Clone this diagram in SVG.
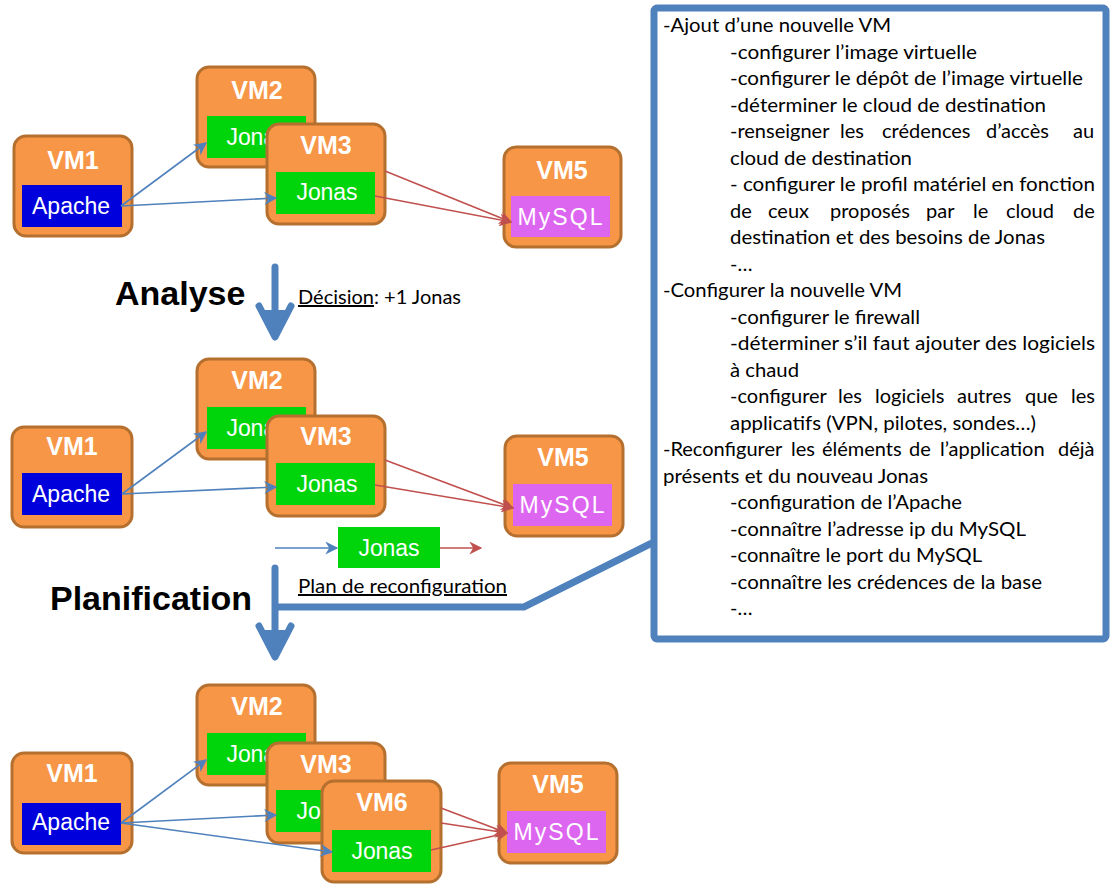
<svg xmlns="http://www.w3.org/2000/svg" width="1110" height="884" viewBox="0 0 1110 884">
<style>
.vm{fill:#F79646;stroke:#B5702F;stroke-width:3}
.apache{fill:#0000DD}
.jonas{fill:#00D50C}
.mysql{fill:#DD66F0}
.vt{font-family:"Liberation Sans",Arial,sans-serif;font-weight:bold;font-size:25px;fill:#fff;text-anchor:middle}
.it{font-family:"Liberation Sans",Arial,sans-serif;font-size:23px;fill:#fff;text-anchor:middle}
.bl{stroke:#4F81BD;stroke-width:1.6;fill:none;marker-end:url(#ab)}
.rd{stroke:#C0504D;stroke-width:1.6;fill:none;marker-end:url(#ar)}
.big{stroke:#4F81BD;stroke-width:7;fill:none;stroke-linecap:round;stroke-linejoin:round}
.h{font-family:"Liberation Sans",Arial,sans-serif;font-weight:bold;font-size:34px;fill:#000}
.c{font-family:Lato,"Open Sans",sans-serif;font-size:20px;fill:#000}
.lb{font-family:Lato,"Open Sans",sans-serif;font-size:20px;fill:#000}
</style>
<defs>
<marker id="ab" viewBox="0 0 10 10" refX="9" refY="5" markerWidth="14" markerHeight="13" markerUnits="userSpaceOnUse" orient="auto"><path d="M0,0 L10,5 L0,10 L3,5 z" fill="#4F81BD"/></marker>
<marker id="ar" viewBox="0 0 10 10" refX="9" refY="5" markerWidth="14" markerHeight="13" markerUnits="userSpaceOnUse" orient="auto"><path d="M0,0 L10,5 L0,10 L3,5 z" fill="#C0504D"/></marker>
</defs>

<!-- Top section -->
<g id="top-vm1"><rect class="vm" x="14" y="136" width="118" height="100" rx="12"/><text class="vt" x="73" y="169">VM1</text><rect class="apache" x="22" y="185" width="100" height="42"/><text class="it" x="71" y="214" textLength="78">Apache</text></g>
<g id="top-vm2"><rect class="vm" x="197" y="67" width="118" height="100" rx="12"/><text class="vt" x="257" y="99">VM2</text><rect class="jonas" x="207" y="116" width="99" height="42"/><text class="it" x="257" y="145" textLength="61">Jonas</text></g>
<g id="top-vm3"><rect class="vm" x="267" y="124" width="118" height="100" rx="12"/><text class="vt" x="326" y="154">VM3</text><rect class="jonas" x="276" y="172" width="99" height="42"/><text class="it" x="327" y="200" textLength="61">Jonas</text></g>
<g id="top-vm5"><rect class="vm" x="504" y="147" width="117" height="100" rx="12"/><text class="vt" x="562" y="179">VM5</text><rect class="mysql" x="511" y="196" width="99" height="41"/><text class="it" x="560" y="225" textLength="85">MySQL</text></g>

<!-- Middle section -->
<g id="mid-vm1"><rect class="vm" x="12" y="427" width="120" height="100" rx="12"/><text class="vt" x="72" y="455">VM1</text><rect class="apache" x="22" y="473" width="100" height="42"/><text class="it" x="71" y="502" textLength="78">Apache</text></g>
<g id="mid-vm2"><rect class="vm" x="197" y="359" width="118" height="100" rx="12"/><text class="vt" x="257" y="389">VM2</text><rect class="jonas" x="207" y="407" width="99" height="42"/><text class="it" x="257" y="436" textLength="61">Jonas</text></g>
<g id="mid-vm3"><rect class="vm" x="267" y="416" width="118" height="100" rx="12"/><text class="vt" x="326" y="445">VM3</text><rect class="jonas" x="276" y="463" width="99" height="42"/><text class="it" x="327" y="492" textLength="61">Jonas</text></g>
<g id="mid-vm5"><rect class="vm" x="505" y="436" width="118" height="100" rx="12"/><text class="vt" x="563" y="466">VM5</text><rect class="mysql" x="513" y="484" width="99" height="42"/><text class="it" x="562" y="513" textLength="85">MySQL</text></g>
<g id="new-jonas"><rect class="jonas" x="338" y="527" width="102" height="41"/><text class="it" x="389" y="556" textLength="61">Jonas</text></g>

<!-- Bottom section -->
<g id="bot-vm1"><rect class="vm" x="12" y="753" width="120" height="100" rx="12"/><text class="vt" x="72" y="782">VM1</text><rect class="apache" x="22" y="803" width="99" height="42"/><text class="it" x="71" y="830" textLength="78">Apache</text></g>
<g id="bot-vm2"><rect class="vm" x="197" y="685" width="118" height="100" rx="12"/><text class="vt" x="257" y="715">VM2</text><rect class="jonas" x="207" y="733" width="99" height="42"/><text class="it" x="257" y="762" textLength="61">Jonas</text></g>
<g id="bot-vm3"><rect class="vm" x="267" y="743" width="118" height="100" rx="12"/><text class="vt" x="326" y="773">VM3</text><rect class="jonas" x="276" y="790" width="99" height="42"/><text class="it" x="327" y="819" textLength="61">Jonas</text></g>
<g id="bot-vm6"><rect class="vm" x="322" y="781" width="119" height="101" rx="12"/><text class="vt" x="382" y="811">VM6</text><rect class="jonas" x="332" y="830" width="99" height="42"/><text class="it" x="382" y="859" textLength="61">Jonas</text></g>
<g id="bot-vm5"><rect class="vm" x="499" y="763" width="118" height="100" rx="12"/><text class="vt" x="558" y="793">VM5</text><rect class="mysql" x="507" y="811" width="99" height="42"/><text class="it" x="556" y="840" textLength="85">MySQL</text></g>

<!-- Connectors -->
<g id="connectors">
<line class="bl" x1="121" y1="206" x2="206" y2="143"/>
<line class="bl" x1="121" y1="206" x2="276" y2="198"/>
<line class="rd" x1="385" y1="171" x2="511" y2="222"/>
<line class="rd" x1="375" y1="196" x2="511" y2="222"/>

<line class="bl" x1="122" y1="494" x2="206" y2="432"/>
<line class="bl" x1="122" y1="494" x2="276" y2="487"/>
<line class="rd" x1="385" y1="460" x2="513" y2="508"/>
<line class="rd" x1="375" y1="485" x2="513" y2="508"/>
<line class="bl" x1="275" y1="548" x2="337" y2="548"/>
<line class="rd" x1="440" y1="548" x2="481" y2="548"/>

<line class="bl" x1="121" y1="823" x2="206" y2="760"/>
<line class="bl" x1="121" y1="823" x2="276" y2="815"/>
<line class="bl" x1="121" y1="823" x2="332" y2="852"/>
<line class="rd" x1="441" y1="808" x2="507" y2="833"/>
<line class="rd" x1="441" y1="823" x2="507" y2="833"/>
<line class="rd" x1="431" y1="850" x2="507" y2="833"/>

<!-- Analyse arrow -->
<path class="big" d="M275,267 L275,335 M259,306 L275,337 L291,306"/>
<path d="M263,310 L275,340 L287,310 Z" fill="#4F81BD"/>
<!-- Planification arrow + callout pointer -->
<path class="big" d="M275,568 L275,655 M259,626 L275,657 L291,626"/>
<path d="M263,630 L275,660 L287,630 Z" fill="#4F81BD"/>
<path d="M275,607 L524,607 L652,543" fill="none" stroke="#4F81BD" stroke-width="7" stroke-linejoin="miter"/>
</g>

<!-- Labels -->
<g id="labels">
<text class="h" x="115" y="305">Analyse</text>
<text class="lb" x="298" y="304"><tspan text-decoration="underline">Décision</tspan>: +1 Jonas</text>
<text class="h" x="50" y="610">Planification</text>
<text class="lb" x="298" y="593" text-decoration="underline" textLength="209" lengthAdjust="spacingAndGlyphs">Plan de reconfiguration</text>
</g>

<!-- Callout box -->
<g id="callout">
<rect x="654" y="8" width="452" height="631" rx="3" fill="#fff" stroke="#4F81BD" stroke-width="7"/>
<text class="c" x="663" y="32" textLength="228" lengthAdjust="spacingAndGlyphs">-Ajout d’une nouvelle VM</text>
<text class="c" x="730" y="58.5" textLength="247" lengthAdjust="spacingAndGlyphs">-configurer l’image virtuelle</text>
<text class="c" x="730" y="85" textLength="353" lengthAdjust="spacingAndGlyphs">-configurer le dépôt de l’image virtuelle</text>
<text class="c" x="730" y="111.5" textLength="316" lengthAdjust="spacingAndGlyphs">-déterminer le cloud de destination</text>
<text class="c" y="138"><tspan x="730">-renseigner </tspan><tspan x="840">les </tspan><tspan x="882">crédences </tspan><tspan x="986">d’accès </tspan><tspan x="1073">au</tspan></text>
<text class="c" x="730" y="164.5" textLength="182" lengthAdjust="spacingAndGlyphs">cloud de destination</text>
<text class="c" x="730" y="191" textLength="365" lengthAdjust="spacingAndGlyphs">- configurer le profil matériel en fonction</text>
<text class="c" y="217.5"><tspan x="730">de </tspan><tspan x="768">ceux </tspan><tspan x="830">proposés </tspan><tspan x="926">par </tspan><tspan x="973">le </tspan><tspan x="1006">cloud </tspan><tspan x="1073">de</tspan></text>
<text class="c" x="730" y="244" textLength="315" lengthAdjust="spacingAndGlyphs">destination et des besoins de Jonas</text>
<text class="c" x="730" y="270.5">-…</text>
<text class="c" x="663" y="297" textLength="239" lengthAdjust="spacingAndGlyphs">-Configurer la nouvelle VM</text>
<text class="c" x="730" y="323.5" textLength="190" lengthAdjust="spacingAndGlyphs">-configurer le firewall</text>
<text class="c" x="730" y="350" textLength="365" lengthAdjust="spacingAndGlyphs">-déterminer s’il faut ajouter des logiciels</text>
<text class="c" x="730" y="376.5" textLength="69" lengthAdjust="spacingAndGlyphs">à chaud</text>
<text class="c" y="403"><tspan x="730">-configurer </tspan><tspan x="838">les </tspan><tspan x="875">logiciels </tspan><tspan x="957">autres </tspan><tspan x="1025">que </tspan><tspan x="1071">les</tspan></text>
<text class="c" x="730" y="429.5" textLength="306" lengthAdjust="spacingAndGlyphs">applicatifs (VPN, pilotes, sondes…)</text>
<text class="c" y="456"><tspan x="663">-Reconfigurer </tspan><tspan x="791">les </tspan><tspan x="822">éléments </tspan><tspan x="909">de </tspan><tspan x="940">l’application </tspan><tspan x="1058">déjà</tspan></text>
<text class="c" x="663" y="482.5" textLength="265" lengthAdjust="spacingAndGlyphs">présents et du nouveau Jonas</text>
<text class="c" x="730" y="509" textLength="232" lengthAdjust="spacingAndGlyphs">-configuration de l’Apache</text>
<text class="c" x="730" y="535.5" textLength="296" lengthAdjust="spacingAndGlyphs">-connaître l’adresse ip du  MySQL</text>
<text class="c" x="730" y="562" textLength="252" lengthAdjust="spacingAndGlyphs">-connaître le port du MySQL</text>
<text class="c" x="730" y="588.5" textLength="312" lengthAdjust="spacingAndGlyphs">-connaître les crédences de la base</text>
<text class="c" x="730" y="615">-…</text>
</g>
</svg>
